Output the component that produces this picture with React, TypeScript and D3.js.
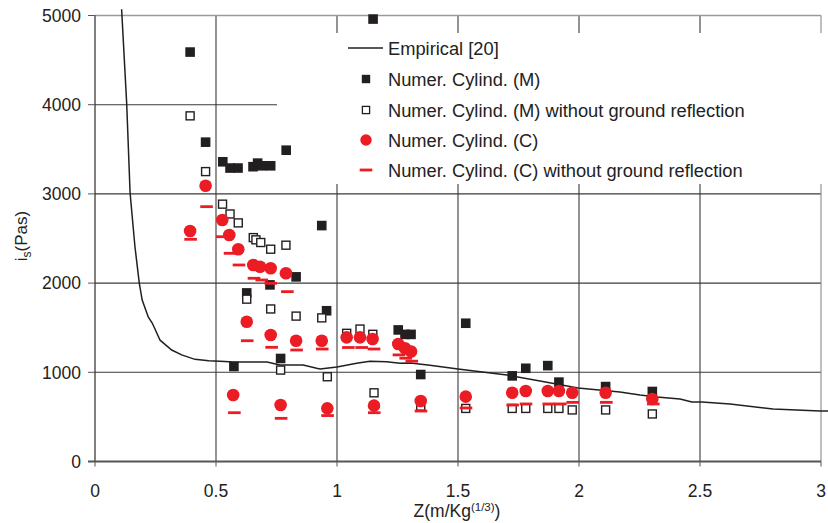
import React from "react";
import * as d3 from "d3";

// Empirical curve [20]
const empiricalZ = [0.110, 0.131, 0.145, 0.165, 0.183, 0.195, 0.220, 0.237, 0.269, 0.317, 0.358, 0.413, 0.470, 0.537, 0.570, 0.711, 0.764, 0.860, 0.916, 0.930, 1.000, 1.081, 1.136, 1.205, 1.260, 1.302, 1.384, 1.500, 1.702, 1.839, 1.996, 2.169, 2.252, 2.322, 2.417, 2.467, 2.508, 2.624, 2.802, 2.996, 3.029];
const empiricalI = [5070, 4010, 3010, 2410, 2000, 1810, 1620, 1550, 1360, 1250, 1195, 1145, 1130, 1120, 1115, 1115, 1082, 1082, 1045, 1037, 1060, 1101, 1125, 1119, 1101, 1105, 1080, 1037, 970, 902, 824, 779, 746, 723, 701, 667, 667, 645, 589, 566, 566];

// Numer. Cylind. (M)
const mZ = [0.393, 0.457, 0.528, 0.558, 0.591, 0.653, 0.672, 0.689, 0.726, 0.790, 1.149, 0.937, 0.831, 0.627, 0.723, 0.957, 0.574, 0.767, 1.253, 1.281, 1.306, 1.346, 1.532, 1.724, 1.780, 1.871, 1.917, 2.110, 2.303];
const mI = [4590, 3580, 3360, 3290, 3290, 3305, 3345, 3315, 3315, 3490, 4960, 2645, 2070, 1890, 1980, 1690, 1065, 1155, 1475, 1425, 1425, 975, 1550, 960, 1045, 1075, 890, 840, 785];

// Numer. Cylind. (M) without ground reflection
const mNoGroundZ = [0.393, 0.457, 0.527, 0.558, 0.592, 0.654, 0.665, 0.685, 0.726, 0.789, 0.627, 0.726, 0.831, 0.937, 0.767, 0.960, 1.040, 1.095, 1.148, 1.153, 1.346, 1.532, 1.724, 1.780, 1.871, 1.917, 1.972, 2.110, 2.303];
const mNoGroundI = [3875, 3250, 2885, 2775, 2675, 2510, 2485, 2455, 2380, 2425, 1820, 1710, 1630, 1610, 1025, 950, 1437, 1485, 1426, 770, 620, 595, 595, 595, 595, 595, 578, 578, 533];

// Numer. Cylind. (C)
const cZ = [0.393, 0.457, 0.526, 0.555, 0.592, 0.627, 0.571, 0.654, 0.682, 0.726, 0.789, 0.726, 0.767, 0.831, 0.937, 0.960, 1.040, 1.095, 1.147, 1.153, 1.253, 1.281, 1.306, 1.346, 1.532, 1.724, 1.780, 1.871, 1.917, 1.972, 2.110, 2.303];
const cI = [2584, 3092, 2707, 2539, 2379, 1567, 745, 2203, 2184, 2166, 2110, 1418, 633, 1354, 1354, 596, 1392, 1392, 1373, 626, 1317, 1269, 1233, 678, 727, 771, 790, 790, 790, 771, 771, 701];

// Numer. Cylind. (C) without ground reflection
const cNoGroundZ = [0.395, 0.461, 0.526, 0.558, 0.595, 0.657, 0.689, 0.726, 0.795, 0.629, 0.576, 0.730, 0.833, 0.939, 0.769, 0.961, 1.047, 1.102, 1.153, 1.256, 1.284, 1.309, 1.154, 1.347, 1.533, 1.726, 1.781, 1.875, 1.923, 1.974, 2.113, 2.307];
const cNoGroundI = [2491, 2857, 2520, 2334, 2203, 2054, 2035, 1998, 1904, 1354, 547, 1280, 1250, 1261, 484, 515, 1278, 1278, 1261, 1195, 1158, 1125, 547, 566, 600, 633, 645, 645, 645, 663, 663, 645];

const xTicks = [0, 0.5, 1, 1.5, 2, 2.5, 3];
const xTickLabels = ["0", "0.5", "1", "1.5", "2", "2.5", "3"];
const yTicks = [0, 1000, 2000, 3000, 4000, 5000];
const legendLabels = [
  "Empirical [20]",
  "Numer. Cylind. (M)",
  "Numer. Cylind. (M) without ground reflection",
  "Numer. Cylind. (C)",
  "Numer. Cylind. (C) without ground reflection",
];

const W = 828;
const H = 523;
const left = 95;
const right = 821;
const top = 15.5;
const bottom = 461.5;
const FONT = "'Liberation Sans', Arial, Helvetica, sans-serif";
const RED = "#ec1c24";
const DARK = "#231f20";
const TICK_FS = 17.5;
const LEGEND_FS = 18.3;

export default function App() {
  const x = d3.scaleLinear().domain([0, 3]).range([left, right]);
  const y = d3.scaleLinear().domain([0, 5000]).range([bottom, top]);

  const line = d3
    .line<number>()
    .x((_, i) => x(empiricalZ[i]))
    .y((d) => y(d))
    .curve(d3.curveLinear);

  const legendX = 277;
  const legendTop = 33;
  const legendBottom = 184;
  const rowY = [48, 79, 110, 140, 170];
  const markX = 366;
  const textX = 388;

  return (
    <svg
      width={W}
      height={H}
      style={{ position: "absolute", left: 0, top: 0, background: "#fff" }}
      fontFamily={FONT}
    >
      {/* horizontal gridlines */}
      {yTicks.filter((t) => t > 0 && t < 5000).map((t) => (
        <line key={"h" + t} x1={left} x2={right} y1={y(t)} y2={y(t)} stroke="#3a3a3a" strokeWidth={1.1} />
      ))}
      {/* vertical gridlines */}
      {xTicks.filter((t) => t > 0).map((t) => (
        <line key={"v" + t} x1={x(t)} x2={x(t)} y1={top} y2={bottom} stroke={t === 3 ? "#8a8a8a" : "#3a3a3a"} strokeWidth={1.1} />
      ))}
      {/* top border */}
      <line x1={left} x2={right} y1={top} y2={top} stroke="#9a9a9a" strokeWidth={1.6} />

      {/* legend background */}
      <rect x={legendX} y={legendTop} width={W - legendX} height={legendBottom - legendTop} fill="#fff" />

      {/* axes */}
      <line x1={left} x2={left} y1={top} y2={bottom} stroke="#2a2a2a" strokeWidth={1.2} />
      <line x1={left - 7} x2={right} y1={bottom} y2={bottom} stroke="#555" strokeWidth={1.8} />
      {yTicks.map((t) => (
        <g key={"yt" + t}>
          <line x1={left - 7} x2={left} y1={y(t)} y2={y(t)} stroke="#555" strokeWidth={1} />
          <text x={left - 14} y={y(t)} dy="0.36em" textAnchor="end" fontSize={TICK_FS} fill="#222">
            {t}
          </text>
        </g>
      ))}
      {xTicks.map((t, i) => (
        <g key={"xt" + t}>
          <line x1={x(t)} x2={x(t)} y1={bottom} y2={bottom + 5} stroke="#555" strokeWidth={1} />
          <text x={x(t)} y={497} textAnchor="middle" fontSize={TICK_FS} fill="#222">
            {xTickLabels[i]}
          </text>
        </g>
      ))}

      {/* axis titles */}
      <text x={457} y={517} textAnchor="middle" fontSize={17.5} fill="#222">
        Z(m/Kg<tspan dy={-6} fontSize={11.5}>(1/3)</tspan><tspan dy={6}>)</tspan>
      </text>
      <text transform="translate(27,236) rotate(-90)" textAnchor="middle" fontSize={17} fill="#222">
        i<tspan dy={4} fontSize={12}>s</tspan><tspan dy={-4}>(Pas)</tspan>
      </text>

      {/* empirical curve */}
      <path d={line(empiricalI) ?? ""} fill="none" stroke={DARK} strokeWidth={1.5} />

      {/* M filled squares */}
      {mZ.map((z, i) => (
        <rect key={"m" + i} x={x(z) - 4.8} y={y(mI[i]) - 4.8} width={9.6} height={9.6} fill={DARK} />
      ))}
      {/* M open squares */}
      {mNoGroundZ.map((z, i) => (
        <rect key={"mo" + i} x={x(z) - 4} y={y(mNoGroundI[i]) - 4} width={8} height={8} fill="#fff" stroke={DARK} strokeWidth={1.4} />
      ))}
      {/* C circles */}
      {cZ.map((z, i) => (
        <circle key={"c" + i} cx={x(z)} cy={y(cI[i])} r={6.3} fill={RED} />
      ))}
      {/* C dashes */}
      {cNoGroundZ.map((z, i) => (
        <rect key={"cd" + i} x={x(z) - 6.3} y={y(cNoGroundI[i]) - 1.4} width={12.6} height={2.8} fill={RED} />
      ))}

      {/* legend */}
      <line x1={348} x2={383} y1={rowY[0]} y2={rowY[0]} stroke={DARK} strokeWidth={1.5} />
      <rect x={markX - 4.2} y={rowY[1] - 4.2} width={8.4} height={8.4} fill={DARK} />
      <rect x={markX - 3.6} y={rowY[2] - 3.6} width={7.2} height={7.2} fill="#fff" stroke={DARK} strokeWidth={1.3} />
      <circle cx={markX} cy={rowY[3]} r={5.7} fill={RED} />
      <rect x={markX - 6.3} y={rowY[4] - 1.4} width={12.6} height={2.8} fill={RED} />
      {legendLabels.map((s, i) => (
        <text key={"lg" + i} x={textX} y={rowY[i]} dy="0.36em" fontSize={LEGEND_FS} fill="#222">
          {s}
        </text>
      ))}
    </svg>
  );
}
